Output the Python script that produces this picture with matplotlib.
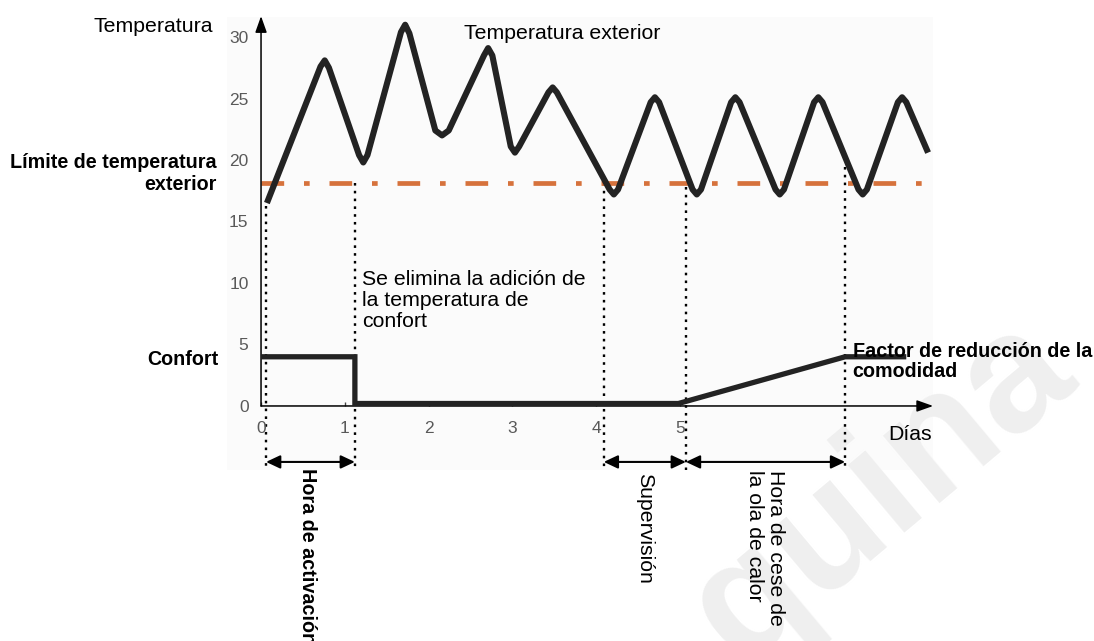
import matplotlib.pyplot as plt
from matplotlib.patches import Rectangle

plt.rcParams['font.family'] = ['Liberation Sans', 'DejaVu Sans']

# Temperatura exterior (días, °C)
temp_dias = [0.07,
             0.71, 0.76, 0.81,
             1.17, 1.22, 1.27,
             1.67, 1.72, 1.77,
             2.08, 2.16, 2.24,
             2.66, 2.71, 2.76,
             2.98, 3.03, 3.08,
             3.43, 3.48, 3.53,
             4.16, 4.21, 4.26,
             4.65, 4.70, 4.75,
             5.15, 5.20, 5.25,
             5.61, 5.66, 5.71,
             6.14, 6.19, 6.24,
             6.60, 6.65, 6.70,
             7.13, 7.18, 7.23,
             7.60, 7.65, 7.70,
             7.96]
temp_valores = [16.5,
                27.6, 28.1, 27.5,
                20.4, 19.8, 20.4,
                30.4, 31.0, 30.3,
                22.4, 22.0, 22.4,
                28.5, 29.1, 28.5,
                21.1, 20.6, 21.1,
                25.5, 25.9, 25.5,
                17.6, 17.2, 17.6,
                24.7, 25.1, 24.7,
                17.6, 17.2, 17.6,
                24.7, 25.1, 24.7,
                17.6, 17.2, 17.6,
                24.7, 25.1, 24.7,
                17.6, 17.2, 17.6,
                24.7, 25.1, 24.7,
                20.6]

# Confort / factor de reducción
confort_dias = [0.0, 1.12, 1.12, 4.98, 6.97, 7.70]
confort_valores = [4.0, 4.0, 0.2, 0.2, 4.0, 4.0]

limite_temp = 18.1

# líneas punteadas verticales (día, temperatura donde empiezan)
eventos_dias = [0.06, 1.12, 4.09, 5.07, 6.97]
eventos_inicio = [16.3, 18.1, 18.1, 17.8, 19.4]
eventos_fin = -5.2

# flechas de los intervalos
intervalos = [(0.06, 1.12), (4.09, 5.07), (5.07, 6.97)]
y_flechas = -4.55

x_ticks = [0, 1, 2, 3, 4, 5]
y_ticks = [0, 5, 10, 15, 20, 25, 30]

fig = plt.figure(figsize=(10.94, 6.41), dpi=100)
ax = fig.add_axes([0, 0, 1, 1])
ax.set_xlim(-3.115, 9.940)
ax.set_ylim(-19.11, 33.01)

# fondo gris muy claro
ax.add_patch(Rectangle((-0.406, -5.2), 8.43, 36.8, color='#fbfbfb', lw=0, zorder=0))

# marca de agua
ax.text(0.675, -0.04, 'quina', transform=fig.transFigure, rotation=40,
        rotation_mode='anchor', fontsize=120, fontweight='bold',
        color='#efefef', ha='left', va='baseline', zorder=0.5)

# ejes con flecha
for sp in ax.spines.values():
    sp.set_visible(False)
ax.spines['left'].set_position(('data', 0))
ax.spines['bottom'].set_position(('data', 0))
ax.annotate('', xy=(0, 31.7), xytext=(0, 0),
            arrowprops=dict(arrowstyle='-|>,head_length=0.9,head_width=0.32',
                            color='black', lw=1.1, shrinkA=0, shrinkB=0,
                            mutation_scale=11))
ax.annotate('', xy=(8.02, 0), xytext=(0, 0),
            arrowprops=dict(arrowstyle='-|>,head_length=0.9,head_width=0.32',
                            color='black', lw=1.1, shrinkA=0, shrinkB=0,
                            mutation_scale=11))

ax.set_xticks(x_ticks)
ax.set_yticks(y_ticks)
ax.tick_params(axis='x', direction='in', length=3, width=1, color='#444444',
               labelsize=12.5, labelcolor='#595959', pad=11)
ax.tick_params(axis='y', length=0, labelsize=12.5, labelcolor='#595959', pad=9)

# límite de temperatura exterior
ax.plot([0, 7.96], [limite_temp, limite_temp], color='#d6723c', lw=3.4,
        linestyle=(0, (4.8, 4.2, 1.2, 4.2)), dash_capstyle='butt', zorder=2)

# líneas punteadas
for d, y0 in zip(eventos_dias, eventos_inicio):
    ax.plot([d, d], [y0, eventos_fin], color='black', lw=1.7,
            linestyle=(0, (1.1, 2.2)), zorder=1.5)

# curva de temperatura exterior
ax.plot(temp_dias, temp_valores, color='#232323', lw=4.4,
        solid_joinstyle='round', solid_capstyle='butt', zorder=3)

# confort
ax.plot(confort_dias, confort_valores, color='#232323', lw=3.8,
        solid_joinstyle='miter', solid_capstyle='butt', zorder=3)

# flechas dobles
for a, b in intervalos:
    ax.annotate('', xy=(b, y_flechas), xytext=(a, y_flechas),
                arrowprops=dict(arrowstyle='<|-|>,head_length=0.85,head_width=0.4',
                                color='black', lw=1.5, shrinkA=0, shrinkB=0,
                                mutation_scale=10))

fs = 15.3
fsb = 14.2
ax.text(-0.573, 30.4, 'Temperatura', fontsize=fs, ha='right', va='baseline')
ax.text(2.42, 29.8, 'Temperatura exterior', fontsize=fs, ha='left', va='baseline')
ax.text(-0.53, 17.6, 'Límite de temperatura\nexterior', fontsize=fsb,
        fontweight='bold', ha='right', va='baseline', multialignment='right')
ax.text(-0.513, 3.33, 'Confort', fontsize=fsb, fontweight='bold',
        ha='right', va='baseline')
ax.text(1.205, 6.4, 'Se elimina la adición de\nla temperatura de\nconfort',
        fontsize=fs, ha='left', va='baseline', linespacing=1.15)
ax.text(7.06, 2.36, 'Factor de reducción de la\ncomodidad', fontsize=fsb,
        fontweight='bold', ha='left', va='baseline', linespacing=1.05)
ax.text(7.48, -2.76, 'Días', fontsize=fs, ha='left', va='baseline')

ax.text(0.56, -5.04, 'Hora de activación', fontsize=fsb, fontweight='bold',
        rotation=-90, ha='center', va='top')
ax.text(4.58, -5.45, 'Supervisión', fontsize=fs, rotation=-90,
        ha='center', va='top')
ax.text(6.01, -5.2, 'Hora de cese de\nla ola de calor', fontsize=fs,
        rotation=-90, ha='center', va='top', multialignment='left',
        linespacing=1.15)

fig.savefig('out.png', dpi=100)
